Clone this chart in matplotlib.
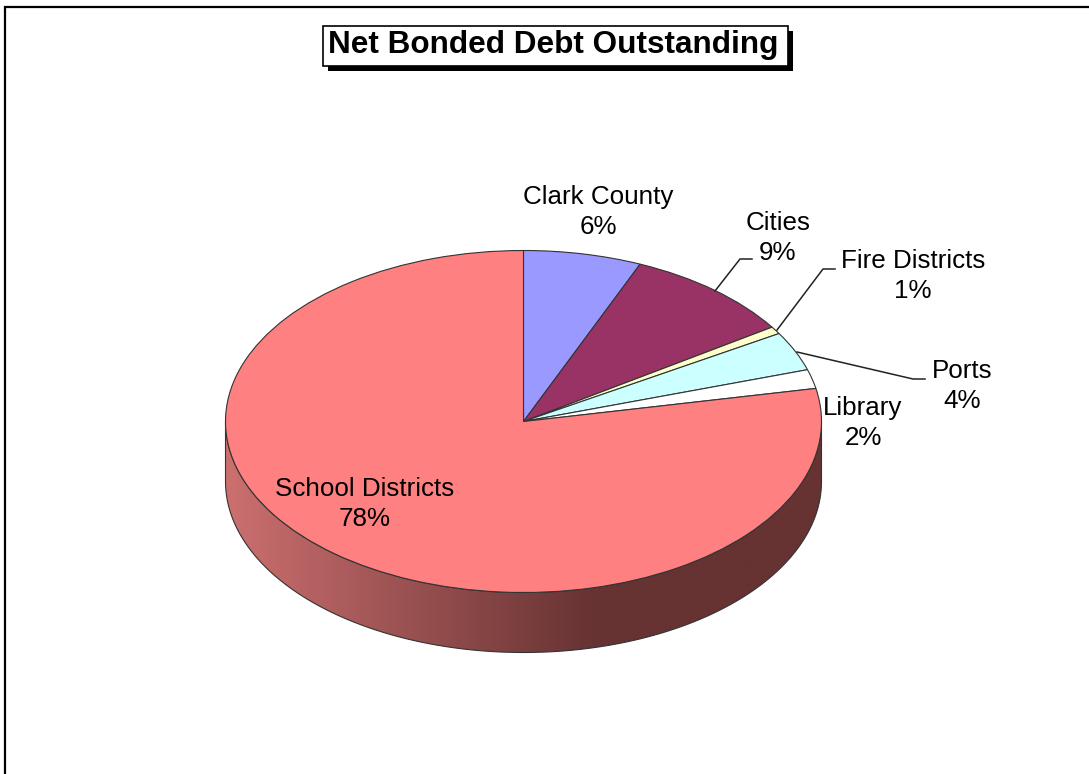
import numpy as np
import matplotlib
matplotlib.use('Agg')
import matplotlib.pyplot as plt
from matplotlib.colors import LinearSegmentedColormap
from matplotlib.patches import Polygon, Rectangle

categories = ['Clark County', 'Cities', 'Fire Districts', 'Ports', 'Library', 'School Districts']
shares = [6.4, 9.3, 0.7, 3.7, 1.8, 78.1]
slice_colors = ['#9999FF', '#993366', '#FFFFCC', '#CCFFFF', '#FFFFFF', '#FF8080']

W, H = 1089, 774
# pie centre and radii in pixels, depth is the height of the rim
cx, cy, rx, ry, depth = 523.5, 421.5, 298, 171, 60

plt.rcParams['font.family'] = ['Liberation Sans', 'DejaVu Sans']

fig = plt.figure(figsize=(W / 100, H / 100), dpi=100, facecolor='white')

# the pie axes is stretched so the unit circle becomes the tilted ellipse
pie_ax = fig.add_axes([0, 0, 1, 1])
pie_ax.pie(shares, colors=slice_colors, startangle=90, counterclock=False,
           wedgeprops={'edgecolor': '#333333', 'linewidth': 0.8})
pie_ax.set_aspect('auto')
xlim = ((0 - cx) / rx, (W - cx) / rx)
ylim = ((cy - H) / ry, cy / ry)

# rim of the pie, shaded left to right
d = depth / ry
t = np.linspace(np.pi, 2 * np.pi, 200)
rim = np.concatenate([np.c_[np.cos(t), np.sin(t)], np.c_[np.cos(t[::-1]), np.sin(t[::-1]) - d]])
rim_patch = Polygon(rim, closed=True, facecolor='none', edgecolor='#333333', linewidth=0.8, zorder=0.5)
pie_ax.add_patch(rim_patch)
shade = LinearSegmentedColormap.from_list('rim', ['#CC6F6F', '#663232'])
grad = np.clip(np.linspace(0, 1.6, 256), 0, 1).reshape(1, -1)
img = pie_ax.imshow(grad, cmap=shade, vmin=0, vmax=1, extent=(-1, 1, -1 - d, 0),
                    aspect='auto', zorder=0.4)
img.set_clip_path(rim_patch)
pie_ax.set_xlim(xlim)
pie_ax.set_ylim(ylim)
pie_ax.axis('off')

# overlay in pixel coordinates for the frame, title and labels
ax = fig.add_axes([0, 0, 1, 1])
ax.set_xlim(0, W)
ax.set_ylim(H, 0)
ax.axis('off')
ax.patch.set_alpha(0)

ax.plot([5, 5, W], [H, 7, 7], color='black', lw=1.6, solid_joinstyle='miter')

# title box with a drop shadow
ax.add_patch(Rectangle((328, 31), 465, 40, facecolor='black', edgecolor='none'))
ax.add_patch(Rectangle((322.5, 25.5), 465, 40, facecolor='white', edgecolor='black', lw=1.2))
ax.text(553, 45, 'Net Bonded Debt Outstanding', fontsize=22.7, fontweight='bold',
        ha='center', va='center', color='black')

label_x = [598, 778, 913, 962, 863, 365]
label_y = [212, 238, 276, 386, 423, 504]
for name, share, x, y in zip(categories, shares, label_x, label_y):
    ax.text(x, y, f'{name}\n{round(share)}%', fontsize=18.7, ha='center', va='center',
            color='black', linespacing=1.29)

# leader lines for Cities, Fire Districts and Ports
ax.plot([715, 740, 752], [291, 259, 259], color='#222222', lw=1.1)
ax.plot([777, 823, 835], [330, 269, 269], color='#222222', lw=1.1)
ax.plot([797, 913, 925], [352, 379, 379], color='#222222', lw=1.1)

fig.savefig('out.png', dpi=100)
